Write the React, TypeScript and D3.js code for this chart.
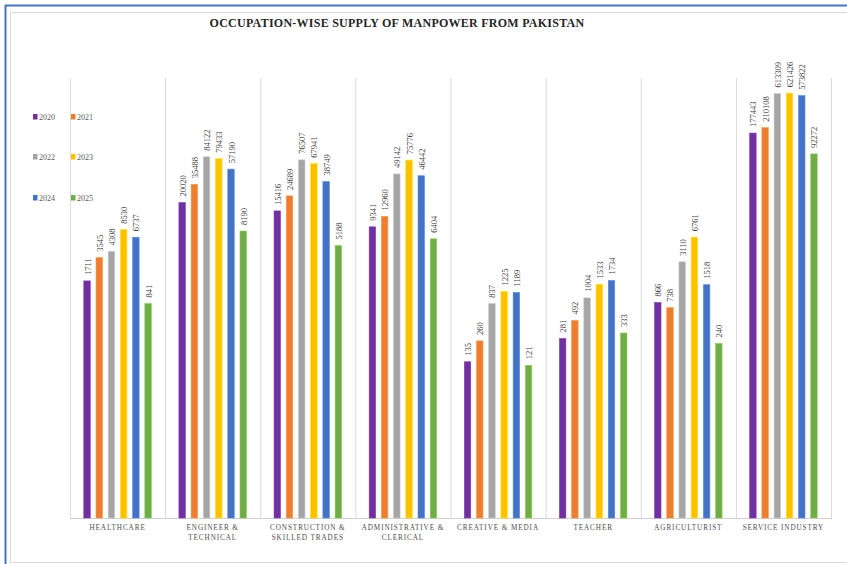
import React from "react";
import * as d3 from "d3";

// Occupation groups (two-line axis labels)
const categories = [
  "HEALTHCARE",
  "ENGINEER & TECHNICAL",
  "CONSTRUCTION & SKILLED TRADES",
  "ADMINISTRATIVE & CLERICAL",
  "CREATIVE & MEDIA",
  "TEACHER",
  "AGRICULTURIST",
  "SERVICE INDUSTRY",
];
const categoryLines = [
  ["HEALTHCARE"],
  ["ENGINEER &", "TECHNICAL"],
  ["CONSTRUCTION &", "SKILLED TRADES"],
  ["ADMINISTRATIVE &", "CLERICAL"],
  ["CREATIVE & MEDIA"],
  ["TEACHER"],
  ["AGRICULTURIST"],
  ["SERVICE INDUSTRY"],
];

const years = ["2020", "2021", "2022", "2023", "2024", "2025"];

const values2020 = [1711, 20020, 15416, 9341, 135, 281, 866, 177443];
const values2021 = [3545, 35488, 24689, 12960, 260, 492, 738, 210108];
const values2022 = [4308, 84122, 76507, 49142, 837, 1004, 3110, 613309];
const values2023 = [8530, 79433, 67941, 75776, 1225, 1533, 6761, 621426];
const values2024 = [6737, 57190, 38749, 46442, 1189, 1734, 1518, 573822];
const values2025 = [841, 8190, 5188, 6404, 121, 333, 240, 92272];

const seriesValues = [values2020, values2021, values2022, values2023, values2024, values2025];

const yearColors = ["#7030A0", "#ED7D31", "#A5A5A5", "#FFC000", "#4472C4", "#70AD47"];

const W = 847;
const H = 564;
const plot = { left: 70, right: 831, top: 78, bottom: 518 };

const serif = "'Liberation Serif', 'DejaVu Serif', serif";

export default function App() {
  const x = d3.scaleBand<string>().domain(categories).range([plot.left, plot.right]).padding(0);
  const xs = d3
    .scaleBand<string>()
    .domain(years)
    .range([0, x.bandwidth()])
    .paddingInner(0.47)
    .paddingOuter(1.13);
  const y = d3.scaleLog().domain([1, 1e6]).range([plot.bottom, plot.top]);

  const gridXs = [...categories.map((c) => x(c) as number), plot.right];

  // legend: 3 rows x 2 columns
  const legendCols = [33, 71];
  const legendRows = [117, 157, 198];

  return (
    <svg
      width={W}
      height={H}
      viewBox={`0 0 ${W} ${H}`}
      style={{ position: "absolute", left: 0, top: 0, display: "block", background: "#fff" }}
    >
      {/* frame */}
      <rect x={10.5} y={12.5} width={W} height={550} fill="#fff" stroke="#d9d9d9" strokeWidth={1} />
      <line x1={5.5} y1={5} x2={5.5} y2={H} stroke="#4472C4" strokeWidth={2} />
      <line x1={5} y1={5.5} x2={W} y2={5.5} stroke="#4472C4" strokeWidth={2} />

      {/* title */}
      <text
        x={397}
        y={27}
        textAnchor="middle"
        fontFamily={serif}
        fontWeight="bold"
        fontSize={12}
        letterSpacing={0.25}
        fill="#262626"
      >
        OCCUPATION-WISE SUPPLY OF MANPOWER FROM PAKISTAN
      </text>

      {/* vertical category gridlines */}
      {gridXs.map((gx, i) => (
        <line
          key={`g${i}`}
          x1={gx + 0.5}
          x2={gx + 0.5}
          y1={plot.top}
          y2={plot.bottom}
          stroke="#d9d9d9"
          strokeWidth={1}
        />
      ))}
      <line
        x1={plot.left}
        x2={plot.right + 1}
        y1={plot.bottom + 0.5}
        y2={plot.bottom + 0.5}
        stroke="#d0d0d0"
        strokeWidth={1}
      />

      {/* bars */}
      {categories.map((cat, ci) => (
        <g key={cat} transform={`translate(${x(cat)},0)`}>
          {years.map((yr, si) => {
            const v = seriesValues[si][ci];
            const bx = xs(yr) as number;
            const top = y(v);
            return (
              <rect
                key={yr}
                x={bx}
                y={top}
                width={xs.bandwidth()}
                height={plot.bottom - top}
                fill={yearColors[si]}
                stroke={d3.color(yearColors[si])!.brighter(0.5).formatHex()}
                strokeWidth={0.6}
              />
            );
          })}
        </g>
      ))}

      {/* value labels */}
      {categories.map((cat, ci) =>
        years.map((yr, si) => {
          const v = seriesValues[si][ci];
          const cx = (x(cat) as number) + (xs(yr) as number) + xs.bandwidth() / 2;
          const ty = y(v) - 6;
          return (
            <text
              key={`${cat}-${yr}`}
              transform={`translate(${cx + 0.5},${ty}) rotate(-90)`}
              dominantBaseline="central"
              fontFamily={serif}
              fontSize={8.5}
              fill="#404040"
            >
              {v}
            </text>
          );
        })
      )}

      {/* category labels */}
      {categories.map((cat, ci) => {
        const cx = (x(cat) as number) + x.bandwidth() / 2;
        return (
          <text
            key={`lab${ci}`}
            textAnchor="middle"
            fontFamily={serif}
            fontSize={7.2}
            letterSpacing={0.9}
            fill="#4d4d4d"
          >
            {categoryLines[ci].map((ln, li) => (
              <tspan key={li} x={cx} y={530 + li * 10}>
                {ln}
              </tspan>
            ))}
          </text>
        );
      })}

      {/* legend */}
      {years.map((yr, si) => {
        const lx = legendCols[si % 2];
        const ly = legendRows[Math.floor(si / 2)];
        return (
          <g key={`leg${yr}`}>
            <rect x={lx} y={ly - 3} width={4.5} height={5.5} fill={yearColors[si]} />
            <text x={lx + 6} y={ly + 2.5} fontFamily={serif} fontSize={8} fill="#595959">
              {yr}
            </text>
          </g>
        );
      })}
    </svg>
  );
}
